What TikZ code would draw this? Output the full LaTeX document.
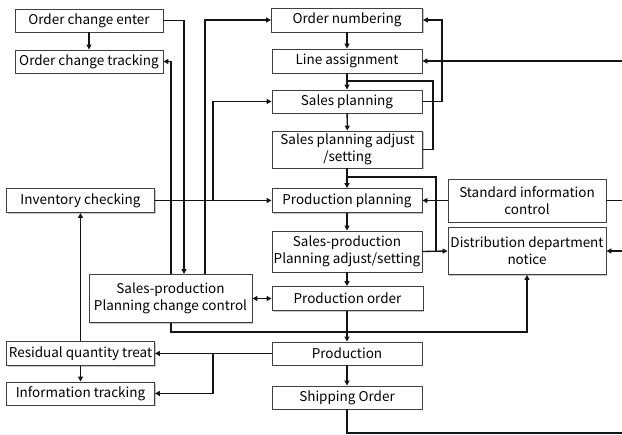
\documentclass[tikz,border=0pt]{standalone}
\usepackage{fontspec}
\setmainfont{Noto Sans CJK KR}
\usetikzlibrary{arrows.meta,shadows,calc}
\begin{document}
\begin{tikzpicture}[x=1pt,y=-1pt,
  box/.style={draw=black!75, line width=0.9pt, fill=white, inner sep=0pt, align=center,
    font=\fontsize{13.5}{17}\selectfont,
    drop shadow={shadow xshift=1.3pt, shadow yshift=-1.3pt, fill=black!22, opacity=1}},
  mainbox/.style={box, minimum width=150, minimum height=24},
  sidebox/.style={box, minimum width=148, minimum height=24},
  link/.style={line width=1.35pt, draw=black!92},
  arr/.style={link, -{Triangle[length=5pt,width=5pt]}},
  dbl/.style={link, {Triangle[length=5pt,width=5pt]}-{Triangle[length=5pt,width=5pt]}}]
\useasboundingbox (0,0) rectangle (622,435);

% main column
\node[mainbox, minimum width=151] (onum) at (347,20) {Order numbering};
\node[mainbox] (la) at (347,61) {Line assignment};
\node[mainbox, minimum height=23] (sp) at (347,101.5) {Sales planning};
\node[mainbox, minimum height=37] (spa) at (347.5,149.5) {Sales planning adjust\\/setting};
\node[mainbox] (pp) at (347,200.5) {Production planning};
\node[mainbox, minimum height=41] (spas) at (347,251.5) {Sales-production\\Planning adjust/setting};
\node[mainbox, minimum width=151] (po) at (347.5,298.5) {Production order};
\node[mainbox, minimum height=23] (prod) at (347,353.5) {Production};
\node[mainbox, minimum height=23] (ship) at (347,397.5) {Shipping Order};

% right column
\node[box, minimum width=158, minimum height=43] (sic) at (527,200.5) {Standard information\\control};
\node[box, minimum width=158, minimum height=47] (ddn) at (527,251) {Distribution department\\notice};

% left side
\node[sidebox, minimum height=23] (oce) at (89,20.5) {Order change enter};
\node[sidebox, minimum height=23] (oct) at (89,61.5) {Order change tracking};
\node[sidebox] (inv) at (80.5,200.5) {Inventory checking};
\node[box, minimum width=163, minimum height=48] (pcc) at (170.5,298.5) {Sales-production\\Planning change control};
\node[sidebox] (rqt) at (80.5,353.5) {Residual quantity treat};
\node[sidebox, minimum height=23] (it) at (80.5,393.5) {Information tracking};

% trunk lines and junctions
\coordinate (tA) at (171,0);
\coordinate (tB) at (184,0);
\coordinate (tC) at (205,0);
\coordinate (tD) at (213,0);
\coordinate (jsp) at (347,81);
\coordinate (fsp) at (433,81);
\coordinate (jpp) at (347,177);
\coordinate (fpp) at (436,177);
\coordinate (fon) at (442,20);
\coordinate (ddnl) at (171,332);
\coordinate (eLA) at (622,61);
\coordinate (eSIC) at (622,200.5);
\coordinate (eDDN) at (622,251);
\coordinate (eSHIP) at (622,433);

% main column flow
\draw[arr] (onum) -- (la);
\draw[arr] (la) -- (sp);
\draw[arr] (sp) -- (spa);
\draw[arr] (spa.south -| pp.north) -- (pp);
\draw[arr] (pp) -- (spas);
\draw[arr] (spas) -- (po.north -| spas.south);
\draw[arr] (po.south -| prod.north) -- (prod);
\draw[arr] (prod) -- (ship);

% feedback loops on the main column
\draw[link] (spa.east) -| (fsp) -- (jsp);
\draw[arr] (sp.east) -| (fon) -- (onum.east);
\draw[link] (spas.east) -| (fpp) -- (jpp);
\draw[arr] (spas.east) -- (ddn.west);
\draw[arr] (sic.west) -- (pp.east);
\draw[link] (sic.east) -- (eSIC);
\draw[arr] (eDDN) -- (ddn.east);
\draw[arr] (eLA) -- (la.east);
\draw[link] (ship.south) |- (eSHIP);

% order changes
\draw[arr] (oce) -- (oct);
\draw[arr] (oce.east) -| (tB |- pcc.north);
\draw[arr] (tA |- pcc.north) |- (oct.east);
\draw[arr] (tC |- pcc.north) |- (onum.west);
\draw[arr] (inv.east) -- (pp.west);
\draw[arr] (tD |- inv.east) |- (sp.west);
\draw[dbl] (pcc.east) -- (po.west);
\draw[arr] (tA |- pcc.south) -- (ddnl) -| (ddn.south);

% production results
\draw[arr] (prod.west) -- (rqt.east);
\draw[arr] (tD |- prod.west) |- (it.east);
\draw[arr] (rqt) -- (it);
\draw[arr] (rqt) -- (inv);
\end{tikzpicture}
\end{document}
